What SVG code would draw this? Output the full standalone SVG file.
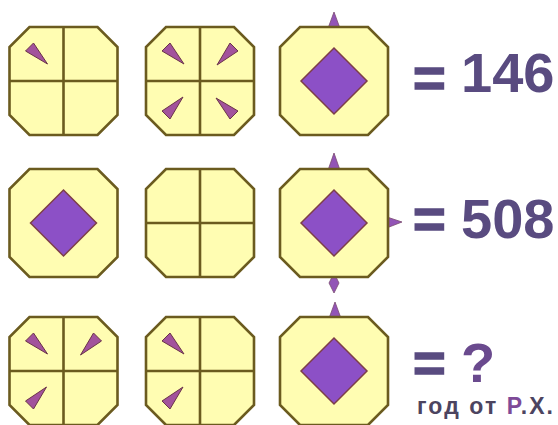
<svg xmlns="http://www.w3.org/2000/svg" width="558" height="425" viewBox="0 0 558 425">
<style>
.oct{fill:#fffdb2;stroke:#6b5b1f;stroke-width:2.6;stroke-linejoin:miter}
.cross{stroke:#6b5b1f;stroke-width:2.6;fill:none}
.wedge{fill:#a2529c;stroke:#6a3448;stroke-width:1}
.dia{fill:#8c50c6;stroke:#7d3e48;stroke-width:1.5}
.spike{fill:#9254b6;stroke:#7a4a70;stroke-width:0.8}
.big{font-family:"Liberation Sans",Arial,sans-serif;font-weight:bold;font-size:56px;fill:#594b80}
.eq{stroke:#594b80;stroke-width:1.6}
.small{font-family:"Liberation Sans",Arial,sans-serif;font-weight:bold;font-size:23px;fill:#4c4460}
</style>
<defs>
<path id="oct" class="oct" d="M-34,-54 L34,-54 L54,-34 L54,34 L34,54 L-34,54 L-54,34 L-54,-34 Z"/>
<path id="cross" class="cross" d="M0,-54 V54 M-54,0 H54"/>
<path id="wedge" class="wedge" d="M-16,-17 L-38,-30 L-30,-38 Z"/>
<path id="dia" class="dia" d="M0,-33 L33,0 L0,33 L-33,0 Z"/>
</defs>
<rect width="558" height="425" fill="#ffffff"/>
<g id="connectors"/>
<!-- Row 1 -->
<g id="r1c1" transform="translate(63.5,81)">
<use href="#oct"/><use href="#cross"/>
<use href="#wedge"/>
</g>
<g id="r1c2" transform="translate(200,81)">
<use href="#oct"/><use href="#cross"/>
<use href="#wedge"/>
<use href="#wedge" transform="rotate(90)"/>
<use href="#wedge" transform="rotate(180)"/>
<use href="#wedge" transform="rotate(270)"/>
</g>
<g id="r1c3" transform="translate(334,81)">
<path class="spike" d="M0,-69 L7,-50 L-7,-50 Z"/>
<use href="#oct"/>
<use href="#dia"/>
</g>
<g id="r1text">
<text class="big" x="413" y="92"><tspan class="eq" dy="5">= </tspan><tspan x="461" dy="-5">146</tspan></text>
</g>
<!-- Row 2 -->
<g id="r2c1" transform="translate(63.5,223)">
<use href="#oct"/>
<use href="#dia"/>
</g>
<g id="r2c2" transform="translate(200,223)">
<use href="#oct"/><use href="#cross"/>
</g>
<g id="r2c3" transform="translate(334,223)">
<path class="spike" d="M0,-70 L7,-50 L-7,-50 Z"/>
<path class="spike" d="M68,-1 L50,-7 L50,6 Z"/>
<path class="spike" d="M0,50 L5,60 L0,70 L-5,60 Z"/>
<use href="#oct"/>
<use href="#dia"/>
</g>
<g id="r2text">
<text class="big" x="413" y="238"><tspan class="eq">= </tspan><tspan x="461">508</tspan></text>
</g>
<!-- Row 3 -->
<g id="r3c1" transform="translate(63.5,371)">
<use href="#oct"/><use href="#cross"/>
<use href="#wedge"/>
<use href="#wedge" transform="rotate(90)"/>
<use href="#wedge" transform="rotate(270)"/>
</g>
<g id="r3c2" transform="translate(200,371)">
<use href="#oct"/><use href="#cross"/>
<use href="#wedge"/>
<use href="#wedge" transform="rotate(270)"/>
</g>
<g id="r3c3" transform="translate(334,371)">
<path class="spike" d="M1,-69 L8,-50 L-6,-50 Z"/>
<use href="#oct"/>
<use href="#dia"/>
</g>
<g id="r3text">
<text class="big" x="413" y="382" style="fill:#6a4a8e"><tspan class="eq" style="fill:#594b80">= </tspan><tspan x="461">?</tspan></text>
<text class="small" x="417" y="414" textLength="136" lengthAdjust="spacing">год от <tspan fill="#7e4a98">Р</tspan>.Х.</text>
</g>
</svg>
